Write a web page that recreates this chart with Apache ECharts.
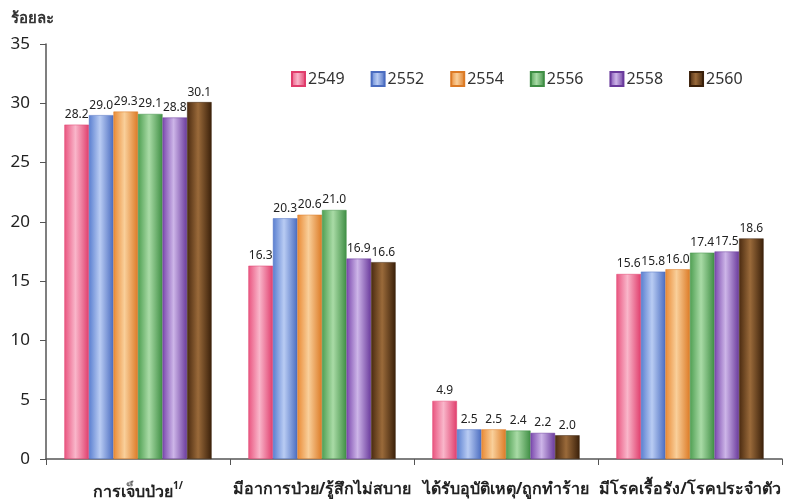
<!DOCTYPE html>
<html><head><meta charset="utf-8">
<script src="https://cdn.jsdelivr.net/npm/echarts@6/dist/echarts.min.js"></script>
<style>html,body{margin:0;padding:0;background:#fff}#c{width:787px;height:503px}</style>
</head><body><div id="c"></div>
<script>
const categories = ['การเจ็บป่วย', 'มีอาการป่วย/รู้สึกไม่สบาย', 'ได้รับอุบัติเหตุ/ถูกทำร้าย', 'มีโรคเรื้อรัง/โรคประจำตัว'];
const years = ['2549', '2552', '2554', '2556', '2558', '2560'];
const v2549 = [28.2, 16.3, 4.9, 15.6];
const v2552 = [29.0, 20.3, 2.5, 15.8];
const v2554 = [29.3, 20.6, 2.5, 16.0];
const v2556 = [29.1, 21.0, 2.4, 17.4];
const v2558 = [28.8, 16.9, 2.2, 17.5];
const v2560 = [30.1, 16.6, 2.0, 18.6];
const yTicks = [0, 5, 10, 15, 20, 25, 30, 35];

const seriesData = [v2549, v2552, v2554, v2556, v2558, v2560];
const palette = [
  ['#e9547f', '#f9b6ca', '#e03d6c'],
  ['#5a7fd0', '#b9ccf3', '#4a6cc0'],
  ['#e98a35', '#f9cf9a', '#dc7a25'],
  ['#4f9f52', '#a9dba6', '#3f8e44'],
  ['#7a48ad', '#cdb5e8', '#6a3a9c'],
  ['#4a2a10', '#9a6a3a', '#3a200a']
];
function grad(p) {
  return new echarts.graphic.LinearGradient(0, 0, 1, 0, [
    {offset: 0, color: p[0]}, {offset: 0.45, color: p[1]}, {offset: 1, color: p[2]}
  ]);
}
const chart = echarts.init(document.getElementById('c'), null, {renderer: 'canvas'});
chart.setOption({
  animation: false,
  backgroundColor: '#fff',
  textStyle: {fontFamily: 'Noto Sans, sans-serif'},
  title: {text: 'ร้อยละ', left: 6, top: 6, textStyle: {fontSize: 15, fontWeight: 'bold', color: '#333', fontFamily: 'Noto Sans, sans-serif'}},
  legend: {
    data: years, left: 286, top: 66, itemWidth: 13, itemHeight: 14, itemGap: 26,
    textStyle: {fontSize: 16, color: '#333', padding: [0, 0, 0, -2]}, icon: 'rect'
  },
  grid: {left: 46, right: 5, top: 44, bottom: 44, containLabel: false},
  xAxis: {
    type: 'category', data: categories,
    axisLine: {lineStyle: {color: '#555', width: 1.5}},
    axisTick: {show: true, length: 6, lineStyle: {color: '#555'}},
    axisLabel: {
      interval: 0, hideOverlap: false,
      fontSize: 16, fontWeight: 'bold', color: '#222', margin: 22,
      formatter: (v, i) => i === 0 ? v + '{sup|1/}' : v,
      rich: {sup: {fontSize: 10, fontWeight: 'bold', color: '#222', verticalAlign: 'top', padding: [0, 0, 12, 0]}}
    }
  },
  yAxis: {
    type: 'value', min: 0, max: 35, interval: 5,
    axisLine: {show: true, lineStyle: {color: '#555', width: 1.5}},
    axisTick: {show: true, length: 6, lineStyle: {color: '#555'}},
    splitLine: {show: false},
    axisLabel: {fontSize: 17, color: '#222', margin: 16, formatter: v => yTicks.includes(v) ? String(v) : ''}
  },
  series: seriesData.map((d, i) => ({
    name: years[i], type: 'bar', data: d,
    barGap: '0%', barCategoryGap: '20%',
    itemStyle: {color: grad(palette[i]), borderColor: palette[i][2], borderWidth: 0.5},
    label: {show: true, position: 'top', fontSize: 12, color: '#222', distance: 4, formatter: p => p.value.toFixed(1)}
  }))
});
</script></body></html>
